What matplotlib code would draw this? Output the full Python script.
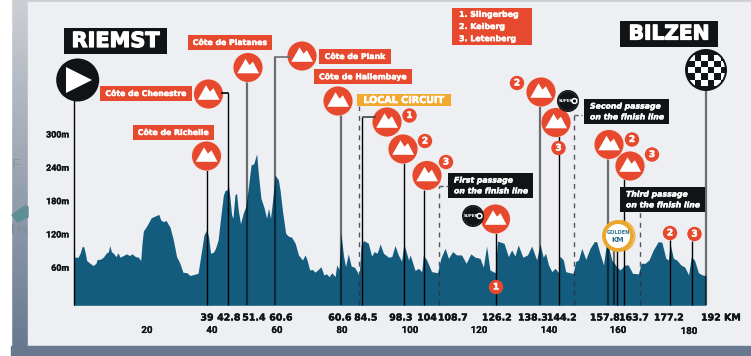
import numpy as np
import matplotlib
matplotlib.use('Agg')
import matplotlib.pyplot as plt
import matplotlib.patheffects as pe
from matplotlib.patches import Circle, Rectangle, Polygon, Arc

# Elevation profile
km = [0, 1.4, 2.0, 2.6, 3.1, 3.6, 4.0, 5.0, 6.0, 6.8, 7.2, 8.05, 9.06, 9.87, 10.6, 11.0, 11.5, 12.3, 12.9, 13.5,
      14.1, 15.1, 16.1, 16.95, 17.8, 18.8, 19.7, 20.4, 20.8, 21.2, 22.4, 23.6, 24.7, 25.9, 26.5, 27.3, 28.1, 29.3,
      30.3, 31.3, 32.3, 33.2, 34.4, 35.4, 36.6, 37.8, 38.6, 39.6, 40.4, 41.0, 41.6, 42.5, 43.1, 43.9, 44.7, 45.5,
      46.0, 46.6, 47.0, 47.4, 48.0, 48.4, 49.0, 49.5, 50.0, 50.7, 51.5, 52.3, 53.1, 53.9, 54.7, 55.6, 56.1, 56.9,
      57.9, 58.6, 59.2, 59.8, 60.4, 61.2, 62.2, 62.7, 63.4, 64.4, 65.2, 66.2, 67.3, 68.3, 69.5, 70.3, 70.9, 71.7,
      72.5, 73.3, 74.3, 75.1, 76.0, 76.8, 77.6, 78.4, 79.4, 79.9, 80.6, 81.2, 82.0, 82.6, 83.4, 84.3, 85.3, 86.1,
      86.7, 87.3, 88.1, 89.5, 90.5, 91.3, 92.1, 92.6, 93.05, 94.1, 95.6, 96.6, 97.6, 98.6, 99.6, 100.3, 101.7,
      102.2, 103.7, 104.7, 105.7, 106.2, 107.2, 108.7, 110.5, 111.5, 112.8, 113.8, 115.1, 116.3, 117.8, 119.2,
      120.6, 121.9, 123.4, 124.4, 125.4, 126.4, 128.0, 128.7, 130.7, 132.0, 133.0, 134.0, 135.0, 136.4, 137.8,
      139.1, 140.6, 141.6, 142.6, 143.3, 144.2, 145.2, 146.2, 147.4, 147.6, 148.7, 149.4, 150.7, 151.7, 152.4,
      153.3, 154.3, 155.5, 156.8, 158.1, 158.8, 159.8, 160.9, 161.7, 162.4, 163.4, 164.9, 165.9, 167.4, 168.4,
      169.7, 171.5, 172.3, 173.5, 174.7, 176.0, 177.5, 178.6, 179.8, 180.6, 181.1, 182.1, 183.1, 184.4, 185.6,
      186.7, 187.5, 188.5, 189.7, 190.9, 192]
elevation = [80, 80, 87, 99, 99, 87, 74, 69, 65, 69, 76, 76, 80, 87, 90, 101, 90, 86, 81, 88,
             80, 83, 86, 83, 86, 81, 80, 74, 105, 127, 138, 151, 154, 157, 147, 144, 146, 134,
             111, 81, 69, 53, 52, 47, 49, 51, 81, 120, 129, 117, 87, 89, 96, 111, 153, 192,
             200, 201, 210, 192, 156, 150, 192, 195, 165, 140, 159, 171, 207, 246, 248, 266, 231, 186,
             168, 150, 168, 150, 180, 228, 219, 201, 165, 123, 118, 116, 105, 84, 75, 84, 75, 57,
             58, 53, 58, 63, 48, 50, 45, 52, 45, 66, 58, 123, 81, 63, 86, 64, 62, 54,
             46, 102, 110, 105, 82, 90, 87, 94, 104, 87, 80, 81, 101, 84, 73, 104, 75,
             84, 56, 60, 54, 84, 75, 54, 52, 78, 96, 78, 90, 84, 84, 69,
             86, 80, 78, 62, 100, 57, 52, 109, 105, 81, 93, 82, 102, 80, 84,
             100, 75, 104, 80, 87, 66, 54, 60, 51, 82, 75, 54, 52, 51, 72,
             75, 96, 76, 96, 108, 108, 87, 66, 102, 99, 75, 63, 57, 66, 66,
             51, 50, 69, 69, 75, 93, 108, 107, 78, 75, 104, 78, 75, 66, 62,
             48, 80, 75, 52, 48, 47]

# Climb stems: km on the chart scale, top of stem in m
black_km = [0, 40.5, 46.75, 87.7, 100.2, 106.3, 128.3, 147.5, 165.1, 167.1, 181.2, 187.6]
black_top = [363, 237, 375, 332, 249, 201, 123, 298, 102, 222, 111, 109]
gray_km = [52.8, 61.2, 81.2, 141.5, 162.4, 164.2, 192]
gray_top = [395, 440, 336, 352, 258, 102, 379]
dash_km = [86.8, 111, 151.9, 172]
dash_top = [352, 208, 336, 161]

y_ticks = [60, 120, 180, 240, 300]
passage_labels = ['39', '42.8', '51.4', '60.6', '60.6', '84.5', '98.3', '104', '108.7', '126.2', '138.3', '144.2',
                  '157.8', '163.7', '177.2', '192 KM']
passage_px = [207, 229, 254, 281, 340, 366, 401, 427, 453, 497, 533, 562, 605, 634, 669, 721]
km_ticks = ['20', '40', '60', '80', '100', '120', '140', '160', '180']
km_ticks_px = [147, 212, 277, 342, 410, 479, 549, 618, 689]

RED = '#e6492d'
INK = '#101417'
BLUE = '#135c7e'
PANEL = '#edeff3'
W, H = 751, 356
PX_M = 1 / 1.8

fig = plt.figure(figsize=(W / 100, H / 100), dpi=100)

# backdrop: washed out map, then the pale panel
bg = fig.add_axes([0, 0, 1, 1], zorder=0)
grad = np.linspace(0, 1, 64)[:, None, None]
c0, c1 = np.array([0.80, 0.81, 0.83]), np.array([0.40, 0.47, 0.56])
bg.imshow(c0 + (c1 - c0) * grad, extent=(0, W, H, 0), aspect='auto')
bg.add_patch(Rectangle((0, 0), 11, H, color='white'))
bg.add_patch(Rectangle((28, 2), W - 28, 344, color=PANEL))
bg.add_patch(Rectangle((11, 346), W - 11, 10, color='#67788f'))
bg.add_patch(Polygon([(12, 215), (25, 206), (28, 207), (28, 217), (18, 222)], color='#5f8f94'))
bg.text(12, 165, 'F', fontsize=10, color='#8b96a3', va='center', family='Liberation Sans')
bg.text(11, 230, 'Ha', fontsize=10, color='#7e8c9c', va='center', family='Liberation Sans')
bg.set_xlim(0, W)
bg.set_ylim(H, 0)
bg.axis('off')

# profile axes, km and metres
ax = fig.add_axes([73.5 / W, (H - 305.3) / H, 632.5 / W, 230 / H], zorder=1)
ax.patch.set_alpha(0)
ax.set_xlim(0, 192)
ax.set_ylim(-6.6, -6.6 + 230 / PX_M)
ax.fill_between(km, -6.6, elevation, color=BLUE, lw=0)
ax.vlines(black_km, -6.6, black_top, color='black', lw=1.0, clip_on=False)
ax.vlines(gray_km, -6.6, gray_top, color='black', alpha=0.55, lw=1.6, clip_on=False)
ax.vlines(dash_km, -6.6, dash_top, color='#2a3036', alpha=0.8, lw=1.0, linestyles=(0, (3.5, 3.5)), clip_on=False)
ax.axis('off')

# labels and icons in picture pixels
top = fig.add_axes([0, 0, 1, 1], zorder=2)
top.patch.set_alpha(0)
top.set_xlim(0, W)
top.set_ylim(H, 0)
top.axis('off')


def heavy(t, w=0.3):
    t.set_path_effects([pe.withStroke(linewidth=w, foreground=t.get_color())])
    return t


def label(x0, x1, y0, y1, text, fc=RED, size=5.6, style='normal', color='white', ls=1.25, left=None, w=0.3):
    top.add_patch(Rectangle((x0, y0), x1 - x0, y1 - y0, color=fc, lw=0))
    x = (x0 + x1) / 2 if left is None else left
    t = top.text(x, (y0 + y1) / 2, text, color=color, fontsize=size, ha='center' if left is None else 'left',
                 va='center', fontweight='bold', fontstyle=style, linespacing=ls)
    heavy(t, w)


def climb(x, y, r=14.5):
    top.add_patch(Circle((x, y), r + 0.5, color='#f6d8d0', lw=0))
    top.add_patch(Circle((x, y), r, color=RED, lw=0))
    pts = [(-0.74, 0.40), (-0.17, -0.60), (0.10, -0.16), (0.34, -0.40), (0.76, 0.40)]
    top.add_patch(Polygon([(x + a * r, y + b * r) for a, b in pts], color='white', lw=0))


def num(x, y, s, r=7.2):
    top.add_patch(Circle((x, y), r, color=RED, lw=0))
    heavy(top.text(x, y, s, color='white', fontsize=6.5, fontweight='bold', ha='center', va='center'))


def super_badge(x, y, r=11):
    top.add_patch(Circle((x, y), r, color=INK, lw=0))
    top.add_patch(Circle((x, y), r - 1.5, fc='none', ec='#7b7f83', lw=0.4, ls=':'))
    top.text(x - 2.5, y, 'SUPER', color='white', fontsize=2.8, fontweight='bold', ha='center', va='center')
    top.add_patch(Circle((x + 6.5, y), 2.4, fc='none', ec='white', lw=1.1))


# elbows from offset icons to their stems
for x0, x1, y, c in [(222, 227.5, 93, 'black'), (275, 290, 57, '#6d6f72'), (362.5, 375, 117, '#444444')]:
    top.plot([x0, x1], [y, y], color=c, lw=1.2)
for x0, x1, y in [(439, 448, 186), (574, 582, 115)]:
    top.plot([x0, x1], [y, y], color='#555a60', lw=1.0, ls=(0, (3, 2)))

# start and finish
label(64, 167, 28, 54, 'RIEMST', fc=INK, size=15, w=0.9)
label(620, 718, 21, 47, 'BILZEN', fc=INK, size=14.5, w=0.9)
top.add_patch(Circle((77.7, 80), 21.5, color=INK, lw=0))
top.add_patch(Polygon([(66, 67), (92, 80), (66, 93)], color='white', lw=0))
top.add_patch(Circle((706, 70), 21, color=INK, lw=0))
for i in range(6):
    for j in range(5):
        if (i + j) % 2 == 0:
            sq = Rectangle((688 + i * 6.5, 54.5 + j * 6.3), 6.5, 6.3, color='white', lw=0)
            top.add_patch(sq)
            sq.set_clip_path(Circle((706, 70), 19, transform=top.transData))

# named climbs
label(100, 192, 86, 101, 'Côte de Chenestre')
label(133, 214, 125, 140, 'Côte de Richelle')
label(188, 272, 35, 50, 'Côte de Platanes')
label(319, 391, 49, 64, 'Côte de Plank')
label(314, 412, 69, 84, 'Côte de Hallembaye')
label(357, 451, 94, 106, 'LOCAL CIRCUIT', fc='#f2a92f', size=6.9, w=0.4)
label(452, 532, 8, 45, '1. Slingerbeg\n2. Keiberg\n3. Letenberg', size=5.7, ls=1.45, left=459)

label(448, 533, 173, 198, 'First passage\non the finish line', fc=INK, style='italic', left=454)
label(584, 669, 99, 124, 'Second passage\non the finish line', fc=INK, style='italic', left=590)
label(620, 705, 187, 212, 'Third passage\non the finish line', fc=INK, style='italic', left=626)

for x, y in [(206.5, 156), (208.5, 94), (248, 67.5), (302, 56), (338, 101), (387, 122), (403, 149), (427, 175.5),
             (495.5, 219), (541, 92), (556, 122.5), (609, 144.5), (630, 166)]:
    climb(x, y)
for x, y, s in [(409.5, 115.5, '1'), (425, 141, '2'), (446, 162, '3'), (496, 287, '1'), (517, 83, '2'),
                (558.5, 148, '3'), (632, 139.5, '2'), (652, 154.5, '3'), (670, 233, '2'), (694.5, 234, '3')]:
    num(x, y, s)
super_badge(473, 216)
super_badge(568, 101)

# golden km
top.add_patch(Circle((618, 236), 14, fc='white', ec='#eba62c', lw=2.8, zorder=3))
top.add_patch(Arc((619, 236), 32, 32, theta1=-80, theta2=70, ec='#eba62c', lw=0.8, zorder=3))
top.text(618, 233, 'GOLDEN', color='#2f6f8f', fontsize=3.6, fontweight='bold', ha='center', va='center', zorder=4)
top.text(618, 240, 'KM', color='#2f6f8f', fontsize=5.2, fontweight='bold', ha='center', va='center', zorder=4)

# axis text
for v in y_ticks:
    y_px = 305.3 - (v + 6.6) * PX_M
    heavy(top.text(69, y_px, '%dm' % v, ha='right', va='center', fontsize=6.4, color=INK, family='Roboto',
                   fontweight='bold'), 0.2)
for s, x in zip(passage_labels, passage_px):
    heavy(top.text(x, 318, s, ha='center', va='center', fontsize=6.8, color=INK, fontweight='bold'), 0.3)
for s, x in zip(km_ticks, km_ticks_px):
    heavy(top.text(x, 331 if s == '180' else 330, s, ha='center', va='center', fontsize=7, color=INK,
                   family='Roboto', fontweight='bold'), 0.1)

fig.savefig('out.png', dpi=100)
